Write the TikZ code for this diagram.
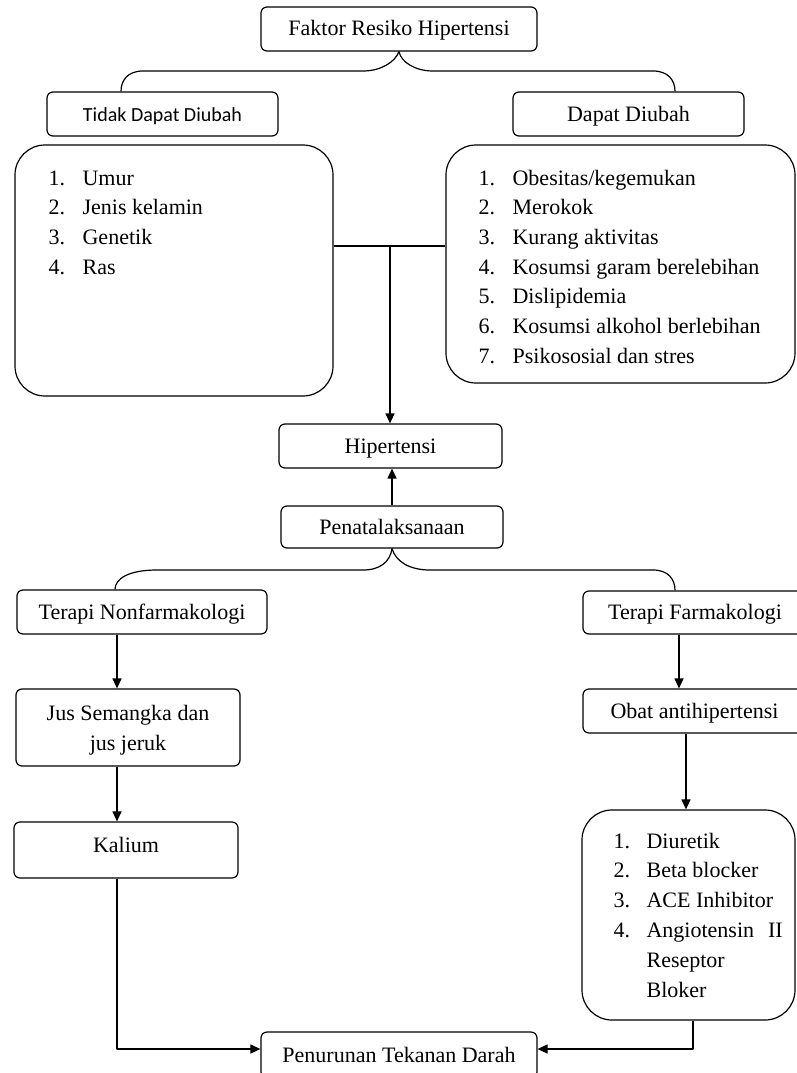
\documentclass[tikz,border=0pt]{standalone}
\usepackage{fontspec}
\setmainfont{Liberation Serif}
\newfontfamily\calibfont{Carlito}
\usetikzlibrary{arrows.meta,calc}
\begin{document}
\begin{tikzpicture}[x=1pt,y=-1pt, line width=1.2pt, line join=round,
  box/.style={draw, rounded corners=6pt, inner sep=0pt, font=\fontsize{22}{26}\selectfont, text height=16pt, text depth=2pt},
  bigbox/.style={draw, rounded corners=30pt, inner sep=0pt},
  item/.style={anchor=base west, inner sep=0pt, font=\fontsize{22}{26}\selectfont},
  txt/.style={inner sep=0pt, align=center, font=\fontsize{22}{30}\selectfont},
  arr/.style={-{Triangle[length=10pt,width=9pt]}}]
\useasboundingbox (0,0) rectangle (796,1073);

% boxes
\node[box, minimum width=276pt, minimum height=44pt] (top) at (399,29) {Faktor Resiko Hipertensi};
\node[box, minimum width=231pt, minimum height=44pt, font=\calibfont\fontsize{20}{24}\selectfont] (tidak) at (162.5,114) {Tidak Dapat Diubah};
\node[box, minimum width=231pt, minimum height=44pt] (dapat) at (628.5,114) {Dapat Diubah};
\node[bigbox, minimum width=318pt, minimum height=251pt] (leftlist) at (174,270.5) {};
\node[bigbox, minimum width=349pt, minimum height=238pt] (rightlist) at (620.5,264) {};
\node[box, minimum width=223pt, minimum height=44pt] (hip) at (390.5,446) {Hipertensi};
\node[box, minimum width=222pt, minimum height=42pt] (pen) at (392,527) {Penatalaksanaan};
\node[box, minimum width=250pt, minimum height=44pt] (tnf) at (142,612) {Terapi Nonfarmakologi};
\node[box, minimum width=224pt, minimum height=43pt] (tf) at (695,612.5) {Terapi Farmakologi};
\node[box, minimum width=224pt, minimum height=77pt] (jus) at (128,727.5) {};
\node[txt] (justxt) at ($(jus.center)+(0,3)$) {Jus Semangka dan\\jus jeruk};
\node[box, minimum width=223pt, minimum height=44pt] (obat) at (694.5,711) {Obat antihipertensi};
\node[box, minimum width=224pt, minimum height=56pt, text depth=12pt] (kal) at (126,850) {Kalium};
\node[bigbox, minimum width=213pt, minimum height=210pt] (botlist) at (688.5,915) {};
\node[box, minimum width=276pt, minimum height=46pt] (pen2) at (399,1055) {Penurunan Tekanan Darah};

% list texts
\foreach \t [count=\i] in {Umur,Jenis kelamin,Genetik,Ras}{
  \node[item] (ln\i) at (48,{185+29.7*(\i-1)}) {\i.};
  \node[item] (lt\i) at (82,{185+29.7*(\i-1)}) {\t};}
\foreach \t [count=\i] in {Obesitas/kegemukan,Merokok,Kurang aktivitas,Kosumsi garam berelebihan,Dislipidemia,Kosumsi alkohol berlebihan,Psikososial dan stres}{
  \node[item] (rn\i) at (478,{185+29.7*(\i-1)}) {\i.};
  \node[item] (rt\i) at (512,{185+29.7*(\i-1)}) {\t};}
\foreach \t [count=\i] in {Diuretik,Beta blocker,ACE Inhibitor}{
  \node[item] (bn\i) at (613,{848+29.9*(\i-1)}) {\i.};
  \node[item] (bt\i) at (646,{848+29.9*(\i-1)}) {\t};}
\node[item] (bn4) at (613,937.7) {4.};
\node[item] (bt4) at (646,937.7) {Angiotensin\hspace{14pt}II};
\node[item] (bt5) at (646,967.5) {Reseptor};
\node[item] (bt6) at (646,997) {Bloker};

% helper coordinates
\coordinate (xA) at (121,0);
\coordinate (xB) at (675,0);
\coordinate (xC) at (115,0);
\coordinate (xD) at (675,0);
\coordinate (xL) at (117,0);
\coordinate (xR1) at (679,0);
\coordinate (xR2) at (686,0);
\coordinate (xR3) at (693,0);
\coordinate (j) at (390,246);

% braces
\draw (xA |- tidak.north) .. controls (121,80) and (128,71) .. (143,71) -- (363,71)
  .. controls (381,71) and (395,62) .. (top.south)
  .. controls (401,62) and (415,71) .. (433,71) -- (653,71)
  .. controls (668,71) and (675,80) .. (xB |- dapat.north);
\draw (xC |- tnf.north) .. controls (115,579) and (128,570) .. (157,570) -- (363,570)
  .. controls (380,570) and (390,562) .. (pen.south)
  .. controls (396,562) and (410,570) .. (430,570) -- (653,570)
  .. controls (668,570) and (675,579) .. (xD |- tf.north);

% connectors
\draw (leftlist.east |- j) -- (rightlist.west |- j);
\draw[arr] (j) -- (j |- hip.north);
\draw[arr] (pen.north) -- (pen.north |- hip.south);
\draw[arr] (xL |- tnf.south) -- (xL |- jus.north);
\draw[arr] (xL |- jus.south) -- (xL |- kal.north);
\draw[arr] (xL |- kal.south) |- ($(pen2.west)+(0,-6)$);
\draw[arr] (xR1 |- tf.south) -- (xR1 |- obat.north);
\draw[arr] (xR2 |- obat.south) -- (xR2 |- botlist.north);
\draw[arr] (xR3 |- botlist.south) |- ($(pen2.east)+(0,-6)$);
\end{tikzpicture}
\end{document}
